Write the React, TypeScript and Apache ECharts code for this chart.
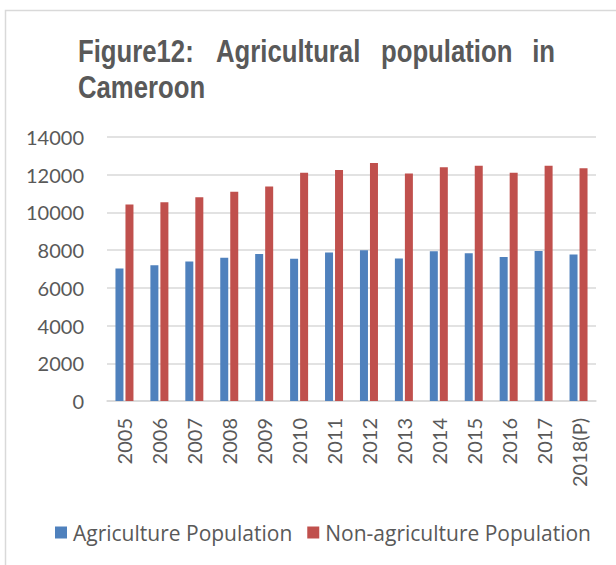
import React, { useEffect, useRef } from "react";
import * as echarts from "echarts";

// Years on the category axis
const years = [
  "2005", "2006", "2007", "2008", "2009", "2010", "2011",
  "2012", "2013", "2014", "2015", "2016", "2017", "2018(P)",
];

// Population figures per year
const agriculturePopulation = [
  7030, 7200, 7400, 7590, 7790, 7540, 7870, 8000, 7560, 7940, 7840, 7640, 7960, 7770,
];
const nonAgriculturePopulation = [
  10420, 10540, 10800, 11100, 11370, 12110, 12250, 12620, 12070, 12390, 12480, 12110, 12480, 12340,
];

const seriesNames = ["Agriculture Population", "Non-agriculture Population"];

// Title words, laid out as a justified first line plus a second line
const titleLine1 = ["Figure12:", "Agricultural", "population", "in"];
const titleLine2 = "Cameroon";

const TEXT = "#595959";
const GRID = "#d9d9d9";
const BLUE = "#4F81BD";
const RED = "#C0504D";
const FONT = "Lato, 'Open Sans', sans-serif";

export default function App() {
  const ref = useRef<HTMLDivElement>(null);

  useEffect(() => {
    if (!ref.current) return;
    const chart = echarts.init(ref.current, undefined, { renderer: "svg" });

    const titleStyle = {
      fill: TEXT,
      font: "bold 31px 'Liberation Sans', Arial, sans-serif",
    };
    const wordX = [78, 216, 381, 555];

    chart.setOption({
      animation: false,
      backgroundColor: "#fff",
      graphic: [
        {
          type: "rect",
          shape: { x: 5.5, y: 10.5, width: 700, height: 700 },
          style: { fill: "none", stroke: GRID, lineWidth: 1.5 },
          silent: true,
        },
        ...titleLine1.map((w, i) => ({
          type: "text",
          x: wordX[i],
          y: 67,
          scaleX: 0.83,
          style: {
            ...titleStyle,
            text: w,
            textAlign: i === titleLine1.length - 1 ? "right" : "left",
            textVerticalAlign: "bottom",
          },
        })),
        {
          type: "text",
          x: 78,
          y: 103,
          scaleX: 0.83,
          style: {
            ...titleStyle,
            text: titleLine2,
            textAlign: "left",
            textVerticalAlign: "bottom",
          },
        },
      ],
      legend: {
        data: seriesNames,
        left: 50,
        top: 517,
        itemWidth: 12,
        itemHeight: 12,
        itemGap: 15,
        icon: "rect",
        textStyle: {
          color: TEXT,
          fontSize: 21,
          fontFamily: "'Open Sans', Lato, sans-serif",
          padding: [0, 0, 0, 1],
        },
      },
      grid: { left: 107, right: 20, top: 137, bottom: 164, containLabel: false },
      xAxis: {
        type: "category",
        data: years,
        axisLine: { show: true, lineStyle: { color: GRID, width: 1.5 } },
        axisTick: { show: false },
        axisLabel: {
          rotate: 90,
          margin: 17,
          color: TEXT,
          fontSize: 20,
          fontFamily: FONT,
          interval: 0,
        },
      },
      yAxis: {
        type: "value",
        min: 0,
        max: 14000,
        interval: 2000,
        axisLine: { show: false },
        axisTick: { show: false },
        splitLine: { lineStyle: { color: GRID, width: 1.5 } },
        axisLabel: {
          color: TEXT,
          fontSize: 20,
          fontFamily: FONT,
          margin: 23,
          formatter: (v: number) => String(v),
        },
      },
      series: [
        {
          name: seriesNames[0],
          type: "bar",
          data: agriculturePopulation,
          barWidth: 8,
          barGap: "25%",
          itemStyle: { color: BLUE },
        },
        {
          name: seriesNames[1],
          type: "bar",
          data: nonAgriculturePopulation,
          barWidth: 8,
          barGap: "25%",
          itemStyle: { color: RED },
        },
      ],
    });

    return () => chart.dispose();
  }, []);

  return (
    <div
      ref={ref}
      style={{ position: "absolute", left: 0, top: 0, width: 616, height: 565 }}
    />
  );
}
